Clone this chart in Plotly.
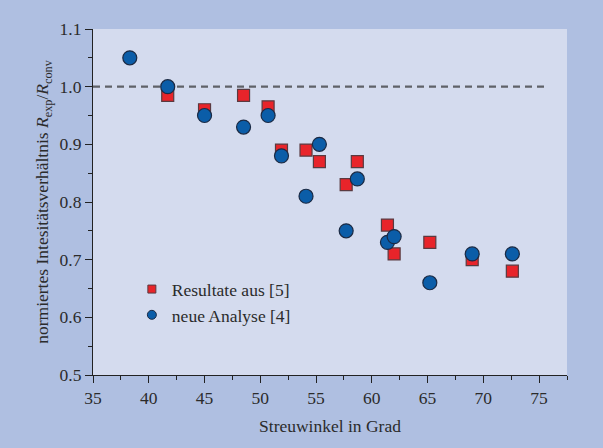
import plotly.graph_objects as go

# data
x_neu = [38.3, 41.7, 45.0, 48.5, 50.7, 51.9, 54.1, 55.3, 57.7, 58.7, 61.4, 62.0, 65.2, 69.0, 72.6]
y_neu = [1.05, 1.00, 0.95, 0.93, 0.95, 0.88, 0.81, 0.90, 0.75, 0.84, 0.73, 0.74, 0.66, 0.71, 0.71]
x_res = [41.7, 45.0, 48.5, 50.7, 51.9, 54.1, 55.3, 57.7, 58.7, 61.4, 62.0, 65.2, 69.0, 72.6]
y_res = [0.985, 0.96, 0.985, 0.965, 0.89, 0.89, 0.87, 0.83, 0.87, 0.76, 0.71, 0.73, 0.70, 0.68]
ref_x = [35, 75.7]
ref_y = [1.0, 1.0]
x_ticks = [35, 40, 45, 50, 55, 60, 65, 70, 75]
y_ticks = [0.5, 0.6, 0.7, 0.8, 0.9, 1.0, 1.1]
y_ticklabels = ["0.5", "0.6", "0.7", "0.8", "0.9", "1.0", "1.1"]
name_res = "Resultate aus [5]"
name_neu = "neue Analyse [4]"

RED = "#E8242A"
BLUE = "#0B5DA8"
TXT = "#2b2b2b"
FONT = "Liberation Serif"
FS = 17.5

fig = go.Figure()
fig.add_trace(go.Scatter(x=ref_x, y=ref_y, mode="lines",
                         line=dict(color="#5f6268", width=2.2, dash="7px,5px"),
                         showlegend=False, hoverinfo="skip"))
fig.add_trace(go.Scatter(x=x_res, y=y_res, mode="markers", showlegend=False,
                         marker=dict(symbol="square", size=12, color=RED,
                                     line=dict(color="#5a3a40", width=1.2))))
fig.add_trace(go.Scatter(x=x_neu, y=y_neu, mode="markers", showlegend=False,
                         marker=dict(symbol="circle", size=14, color=BLUE,
                                     line=dict(color="#1b2a44", width=1.2))))
# legend entries (smaller markers, as in the reference)
fig.add_trace(go.Scatter(x=[None], y=[None], mode="markers", name=name_res,
                         marker=dict(symbol="square", size=8, color=RED,
                                     line=dict(color="#5a3a40", width=1))))
fig.add_trace(go.Scatter(x=[None], y=[None], mode="markers", name=name_neu,
                         marker=dict(symbol="circle", size=9, color=BLUE,
                                     line=dict(color="#1b2a44", width=1))))

axis_common = dict(showline=True, linecolor="#222", linewidth=1.2, mirror=False,
                   ticks="outside", ticklen=7, tickwidth=1.2, tickcolor="#222",
                   showgrid=False, zeroline=False,
                   tickfont=dict(family=FONT, size=FS, color=TXT))

fig.update_layout(
    width=603, height=448,
    margin=dict(l=93, r=36, t=29, b=73),
    paper_bgcolor="#AFBFE1",
    plot_bgcolor="#D4DBEE",
    font=dict(family=FONT, color=TXT, size=FS),
    xaxis=dict(range=[35, 77.5], tickvals=x_ticks,
               minor=dict(ticks="outside", ticklen=4, tickwidth=1.2, tickcolor="#222", dtick=2.5, tick0=35),
               title=dict(text="Streuwinkel in Grad", font=dict(family=FONT, size=FS, color=TXT), standoff=12),
               **axis_common),
    yaxis=dict(range=[0.5, 1.1], tickvals=y_ticks, ticktext=y_ticklabels,
               minor=dict(ticks="outside", ticklen=4, tickwidth=1.2, tickcolor="#222", dtick=0.05, tick0=0.5),
               title=dict(text="normiertes Intesitätsverhältnis <i>R</i><sub>exp</sub>/<i>R</i><sub>conv</sub>",
                          font=dict(family=FONT, size=FS, color=TXT), standoff=6),
               **axis_common),
    legend=dict(x=0.082, y=0.30, xanchor="left", yanchor="top",
                bgcolor="rgba(0,0,0,0)", borderwidth=0,
                font=dict(family=FONT, size=FS, color=TXT),
                itemsizing="trace", tracegroupgap=0),
)

fig.write_html("out.html", config={"displayModeBar": False},
               post_script="document.body.style.margin='0';")
